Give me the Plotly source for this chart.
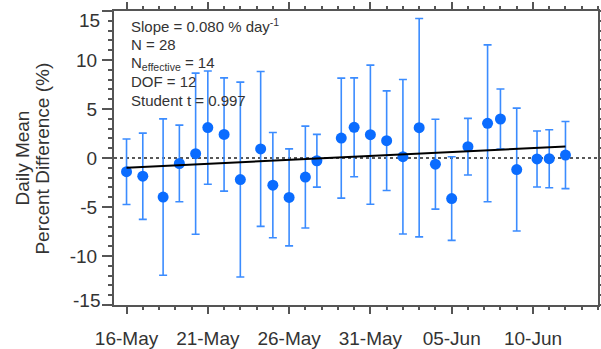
import pandas as pd
import plotly.graph_objects as go

# Daily mean percent differences with their uncertainty (half-width of the bar)
dates = [
    "2013-05-16 00:00", "2013-05-17 00:00", "2013-05-18 06:00", "2013-05-19 06:00",
    "2013-05-20 06:00", "2013-05-21 00:00", "2013-05-22 00:00", "2013-05-23 00:00",
    "2013-05-24 06:00", "2013-05-25 00:00", "2013-05-26 00:00", "2013-05-27 00:00",
    "2013-05-27 17:00", "2013-05-29 05:00", "2013-05-30 00:00", "2013-05-31 00:00",
    "2013-06-01 00:00", "2013-06-02 00:00", "2013-06-03 00:00", "2013-06-04 00:00",
    "2013-06-05 00:00", "2013-06-06 00:00", "2013-06-07 05:00", "2013-06-08 00:00",
    "2013-06-09 00:00", "2013-06-10 06:00", "2013-06-11 00:00", "2013-06-12 00:00",
]
daily_mean = [
    -1.40, -1.86, -3.99, -0.56, 0.44, 3.10, 2.40, -2.20, 0.92, -2.77,
    -4.02, -1.95, -0.28, 2.03, 3.13, 2.38, 1.77, 0.13, 3.09, -0.63,
    -4.14, 1.15, 3.54, 3.98, -1.18, -0.10, -0.07, 0.30,
]
uncertainty = [
    3.34, 4.40, 7.98, 3.91, 8.22, 5.78, 5.78, 9.94, 7.90, 5.37,
    4.95, 5.20, 2.69, 6.12, 5.05, 7.10, 5.08, 7.88, 11.14, 4.59,
    4.27, 2.89, 8.00, 3.06, 6.27, 2.86, 2.96, 3.43,
]

# Linear fit statistics
trend_slope = 0.080        # % per day
trend_intercept = -0.99    # % at the first observation
n_points = 28
n_effective = 14
dof = 12
student_t = 0.997

y_tick_vals = [-15, -10, -5, 0, 5, 10, 15]

BLUE = "#0a6cff"
BAR_BLUE = "#3b8cff"
TEXT = "#333333"
AXIS = "#555555"
FONT = "Liberation Sans, Arial, Helvetica, sans-serif"

t = pd.to_datetime(dates)
days = (t - t[0]) / pd.Timedelta(days=1)
trend_x = [t[0], t[-1]]
trend_y = [trend_intercept, trend_intercept + trend_slope * days[-1]]

fig = go.Figure()

fig.add_hline(y=0, line=dict(color="#222222", width=1.5, dash="dot"), layer="below")

fig.add_trace(go.Scatter(
    x=t, y=daily_mean, mode="markers",
    marker=dict(color=BLUE, size=11, line=dict(width=0)),
    error_y=dict(type="data", array=uncertainty, visible=True,
                 color=BAR_BLUE, thickness=1.6, width=4),
    showlegend=False,
))

fig.add_trace(go.Scatter(
    x=trend_x, y=trend_y, mode="lines",
    line=dict(color="black", width=2), showlegend=False,
))

# Statistics block in the upper-left corner
stats_lines = [
    f"Slope = {trend_slope:.3f} % day<sup>-1</sup>",
    f"N = {n_points}",
    f"N<sub>effective</sub> = {n_effective}",
    f"DOF = {dof}",
    f"Student t = {student_t:.3f}",
]
for i, line in enumerate(stats_lines):
    fig.add_annotation(
        text=line, xref="paper", yref="paper", x=0.031, y=0.95 - i * 0.0636,
        xanchor="left", yanchor="middle", showarrow=False,
        font=dict(family=FONT, size=15, color=TEXT),
    )

# Two-line y-axis title
for txt, xp in [("Daily Mean", -0.188), ("Percent Difference (%)", -0.1467)]:
    fig.add_annotation(
        text=txt, xref="paper", yref="paper", x=xp, y=0.498,
        xanchor="center", yanchor="middle", textangle=-90, showarrow=False,
        font=dict(family=FONT, size=19, color=TEXT),
    )

# End labels of the y axis are pulled inside the frame
for val, shift in [(15, -9), (-15, 5)]:
    fig.add_annotation(
        text=str(val), xref="paper", yref="y", x=0, y=val, yshift=shift,
        xanchor="right", yanchor="middle", xshift=-12, showarrow=False,
        font=dict(family=FONT, size=19, color=TEXT),
    )

fig.update_layout(
    width=601, height=349,
    margin=dict(l=114, r=3, t=11, b=44),
    paper_bgcolor="white", plot_bgcolor="white",
    font=dict(family=FONT, color=TEXT),
    template="none",
)

fig.update_xaxes(
    type="date",
    range=["2013-05-15 05:30", "2013-06-14 00:00"],
    tick0="2013-05-16", dtick=5 * 86400000, tickformat="%d-%b",
    ticks="outside", ticklen=7, tickwidth=1.5, tickcolor=AXIS,
    minor=dict(dtick=86400000, tick0="2013-05-16", ticks="outside",
               ticklen=3, tickwidth=1.5, tickcolor=AXIS),
    showline=True, linecolor=AXIS, linewidth=2, mirror="ticks",
    showgrid=False, zeroline=False, automargin=False,
    tickfont=dict(family=FONT, size=19, color=TEXT),
    ticklabelstandoff=8,
)

fig.update_yaxes(
    range=[-15, 15],
    tickvals=y_tick_vals,
    ticktext=["" if abs(v) == 15 else str(v) for v in y_tick_vals],
    ticks="outside", ticklen=10, tickwidth=1.5, tickcolor=AXIS,
    minor=dict(dtick=1, tick0=0, ticks="outside", ticklen=4,
               tickwidth=1.5, tickcolor=AXIS),
    showline=True, linecolor=AXIS, linewidth=2, mirror="ticks",
    showgrid=False, zeroline=False, automargin=False,
    tickfont=dict(family=FONT, size=19, color=TEXT),
    ticklabelstandoff=1,
)

fig.write_html("out.html")
